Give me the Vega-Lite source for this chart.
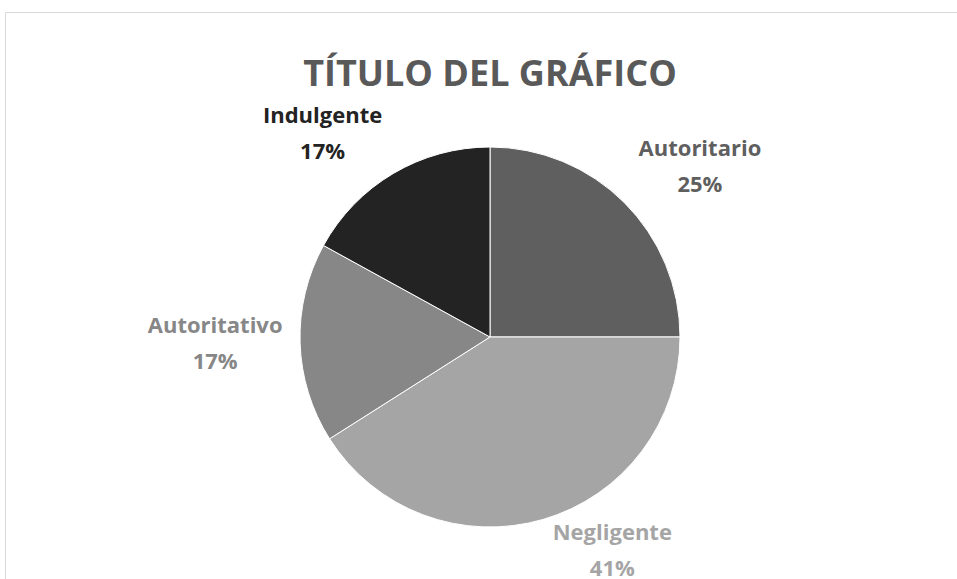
{
  "$schema": "https://vega.github.io/schema/vega-lite/v6.json",
  "width": 970,
  "height": 650,
  "autosize": {"type": "none"},
  "padding": {"left": 5, "top": 12, "right": 0, "bottom": 0},
  "background": "white",
  "view": {"stroke": "#d9d9d9", "strokeWidth": 1},
  "title": {
    "text": "TÍTULO DEL GRÁFICO",
    "anchor": "middle",
    "frame": "group",
    "orient": "top",
    "baseline": "alphabetic",
    "offset": 0,
    "dy": 110,
    "font": "Open Sans",
    "fontSize": 36,
    "fontWeight": "bold",
    "color": "#595959"
  },
  "data": {
    "values": [
      {"i": 1, "categoria": "Autoritario", "valor": 25},
      {"i": 2, "categoria": "Negligente", "valor": 41},
      {"i": 3, "categoria": "Autoritativo", "valor": 17},
      {"i": 4, "categoria": "Indulgente", "valor": 17}
    ]
  },
  "transform": [
    {"stack": "valor", "groupby": [], "sort": [{"field": "i", "order": "ascending"}], "as": ["v0", "v1"]},
    {"calculate": "(datum.v0 + datum.v1) / 2", "as": "medio"},
    {"calculate": "datum.categoria + '\\n' + datum.valor + '%'", "as": "etiqueta"}
  ],
  "encoding": {
    "color": {
      "field": "categoria",
      "type": "nominal",
      "scale": {
        "domain": ["Autoritario", "Negligente", "Autoritativo", "Indulgente"],
        "range": ["#5f5f5f", "#a5a5a5", "#878787", "#232323"]
      },
      "legend": null
    }
  },
  "layer": [
    {
      "mark": {"type": "arc", "outerRadius": 190, "stroke": "white", "strokeWidth": 1},
      "encoding": {
        "theta": {"field": "v0", "type": "quantitative", "scale": {"domain": [0, 100]}},
        "theta2": {"field": "v1"}
      }
    },
    {
      "transform": [{"filter": "datum.categoria == 'Autoritario'"}],
      "mark": {"type": "text", "radius": 270, "dx": 19, "dy": 3, "font": "Open Sans", "fontSize": 22, "fontWeight": "bold", "lineBreak": "\n", "lineHeight": 36, "baseline": "middle", "align": "center"},
      "encoding": {
        "theta": {"field": "medio", "type": "quantitative", "scale": {"domain": [0, 100]}},
        "text": {"field": "etiqueta"}
      }
    },
    {
      "transform": [{"filter": "datum.categoria == 'Negligente'"}],
      "mark": {"type": "text", "radius": 270, "dx": 47, "dy": -63, "font": "Open Sans", "fontSize": 22, "fontWeight": "bold", "lineBreak": "\n", "lineHeight": 36, "baseline": "middle", "align": "center"},
      "encoding": {
        "theta": {"field": "medio", "type": "quantitative", "scale": {"domain": [0, 100]}},
        "text": {"field": "etiqueta"}
      }
    },
    {
      "transform": [{"filter": "datum.categoria == 'Autoritativo'"}],
      "mark": {"type": "text", "radius": 270, "dx": -5, "dy": -19, "font": "Open Sans", "fontSize": 22, "fontWeight": "bold", "lineBreak": "\n", "lineHeight": 36, "baseline": "middle", "align": "center"},
      "encoding": {
        "theta": {"field": "medio", "type": "quantitative", "scale": {"domain": [0, 100]}},
        "text": {"field": "etiqueta"}
      }
    },
    {
      "transform": [{"filter": "datum.categoria == 'Indulgente'"}],
      "mark": {"type": "text", "radius": 270, "dx": -30, "dy": 11, "font": "Open Sans", "fontSize": 22, "fontWeight": "bold", "lineBreak": "\n", "lineHeight": 36, "baseline": "middle", "align": "center"},
      "encoding": {
        "theta": {"field": "medio", "type": "quantitative", "scale": {"domain": [0, 100]}},
        "text": {"field": "etiqueta"}
      }
    }
  ]
}
